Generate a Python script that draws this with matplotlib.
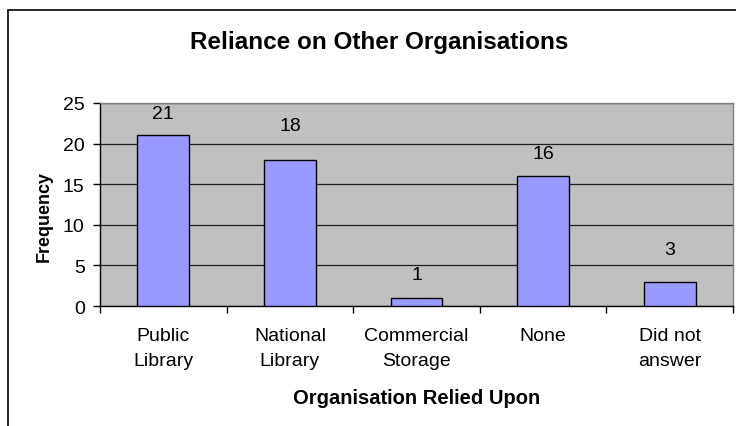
import matplotlib
matplotlib.use('Agg')
import matplotlib.pyplot as plt
from matplotlib.patches import Rectangle

plt.rcParams['font.family'] = ['Liberation Sans', 'DejaVu Sans']

categories = ['Public\nLibrary', 'National\nLibrary', 'Commercial\nStorage', 'None', 'Did not\nanswer']
counts = [21, 18, 1, 16, 3]
yticks = [0, 5, 10, 15, 20, 25]

# pixel gap between bar top and centre of its value label
label_gap = [22, 34, 23, 23, 32]

fig = plt.figure(figsize=(7.36, 4.27), dpi=100)

# chart border (runs off the right and bottom edges)
fig.patches.append(Rectangle((8 / 736, -0.2), 1.0, 1.2 - 11 / 427, transform=fig.transFigure,
                             fill=False, edgecolor='black', linewidth=1.2))

ax = fig.add_axes([100 / 736, 1 - 307 / 427, 633 / 736, 203 / 427])
ax.set_facecolor('#C0C0C0')

x = list(range(len(categories)))
ax.bar(x, counts, width=0.41, color='#9999FF', edgecolor='black', linewidth=1.0, zorder=3)
for xi, v, g in zip(x, counts, label_gap):
    ax.annotate(str(v), (xi, v), xytext=(0, g), textcoords='offset pixels',
                ha='center', va='center', fontsize=14)

ax.set_xlim(-0.5, len(categories) - 0.5)
ax.set_ylim(0, 25)
ax.set_yticks(yticks)
ax.tick_params(axis='y', labelsize=14, length=5, width=1, direction='out', pad=6)
ax.yaxis.grid(True, color='#202020', linewidth=0.9, zorder=1)

# category labels centred, ticks on the boundaries between categories
ax.set_xticks([i + 0.5 for i in range(-1, len(categories))])
ax.set_xticklabels([])
ax.tick_params(axis='x', length=5, width=1, direction='out')
for xi, lab in zip(x, categories):
    ax.annotate(lab, (xi, 0), xytext=(0, -(328 - 307)), textcoords='offset pixels',
                ha='center', va='top', fontsize=14, linespacing=1.65)

for side in ['top', 'right']:
    ax.spines[side].set_color('#808080')
    ax.spines[side].set_linewidth(1.0)
for side in ['left', 'bottom']:
    ax.spines[side].set_color('black')
    ax.spines[side].set_linewidth(1.0)

fig.text(44 / 736, 1 - 217 / 427, 'Frequency', rotation=90, ha='center', va='center',
         fontsize=13, fontweight='bold')
fig.text(417 / 736, 1 - 399 / 427, 'Organisation Relied Upon', ha='center', va='center',
         fontsize=14.5, fontweight='bold')
fig.text(379 / 736, 1 - 43 / 427, 'Reliance on Other Organisations', ha='center', va='center',
         fontsize=17.5, fontweight='bold')

fig.savefig('out.png', dpi=100)
